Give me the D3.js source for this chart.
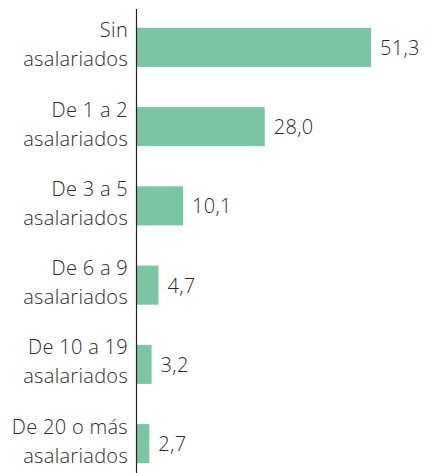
<!DOCTYPE html>
<html>
<head>
<meta charset="utf-8">
<script src="https://cdn.jsdelivr.net/npm/d3@7"></script>
<style>
    body { margin: 0; background: #fff; }
    text { font-family: 'Open Sans', sans-serif; font-weight: 350; letter-spacing: 0.3px; fill: #2b2b2b; }
</style>
</head>
<body>
<svg id="chart"></svg>
<script>
// Trabajadores por tamaño de empresa (%)
const categories = [
    ['Sin', 'asalariados'],
    ['De 1 a 2', 'asalariados'],
    ['De 3 a 5', 'asalariados'],
    ['De 6 a 9', 'asalariados'],
    ['De 10 a 19', 'asalariados'],
    ['De 20 o más', 'asalariados']
];
const values = [51.3, 28.0, 10.1, 4.7, 3.2, 2.7];

const width = 435;
const height = 473;
const axisX = 137;
const fontSize = 20;

const chart = d3.select('#chart')
    .attr('width', width)
    .attr('height', height);

const x = d3.scaleLinear()
    .domain([0, 51.3])
    .range([axisX, 371]);

const y = d3.scaleBand()
    .domain(d3.range(values.length))
    .range([8, 483])
    .paddingInner(0.507)
    .paddingOuter(0.25);

const bar = chart.selectAll('g.bar')
    .data(values)
    .enter()
    .append('g')
    .attr('class', 'bar')
    .attr('transform', function(data, index) {
        return 'translate(0,' + y(index) + ')';
    });

bar.append('rect')
    .attr('x', axisX)
    .attr('width', function(data) {
        return x(data) - axisX;
    })
    .attr('height', y.bandwidth())
    .attr('fill', '#7cc5a4');

bar.append('text')
    .attr('x', function(data) {
        return x(data) + 9;
    })
    .attr('y', y.bandwidth() / 2)
    .attr('dy', '.38em')
    .attr('font-size', fontSize)
    .text(function(data) {
        return d3.format('.1f')(data).replace('.', ',');
    });

bar.append('text')
    .attr('x', axisX - 9)
    .attr('y', y.bandwidth() / 2)
    .attr('text-anchor', 'end')
    .attr('font-size', fontSize)
    .selectAll('tspan')
    .data(function(data, index) {
        return categories[index];
    })
    .enter()
    .append('tspan')
    .attr('x', axisX - 9)
    .attr('dy', function(data, index) {
        return index === 0 ? '-0.5em' : '1.45em';
    })
    .text(function(data) {
        return data;
    });

// eje vertical
chart.append('line')
    .attr('x1', axisX - 0.5)
    .attr('x2', axisX - 0.5)
    .attr('y1', 9)
    .attr('y2', height)
    .attr('stroke', '#222')
    .attr('stroke-width', 1.2);
</script>
</body>
</html>
